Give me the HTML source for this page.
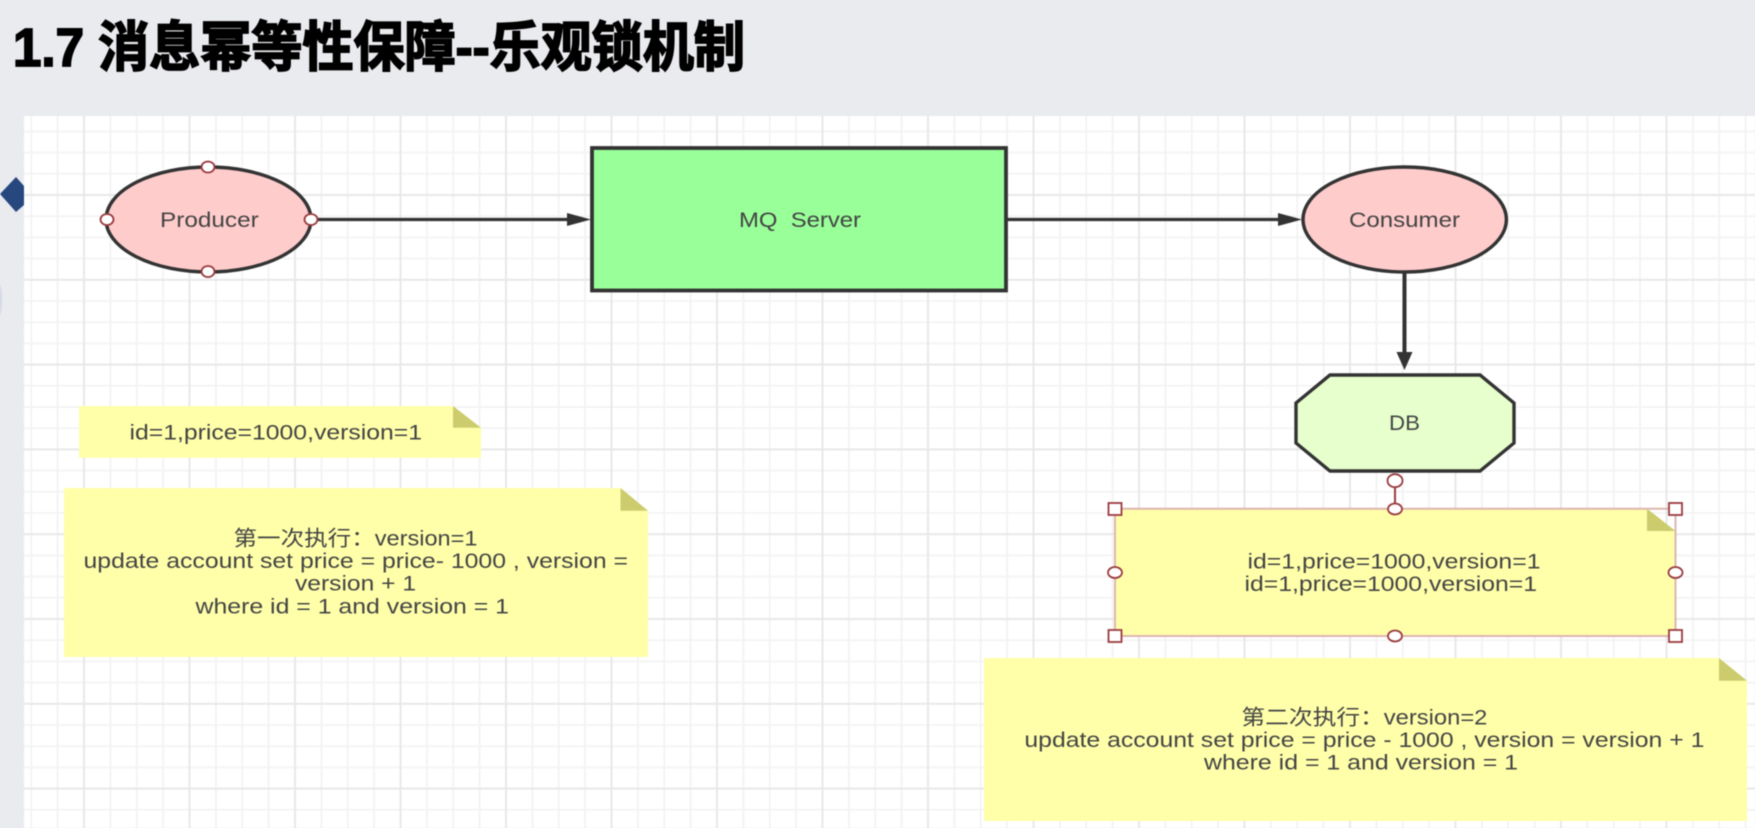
<!DOCTYPE html>
<html><head><meta charset="utf-8"><style>
html,body{margin:0;padding:0;background:#eaebef;width:1755px;height:828px;overflow:hidden}
svg{display:block;filter:blur(0.45px)}
text{font-family:"Liberation Sans","Noto Sans CJK SC",sans-serif;fill:#444;font-size:21px;text-anchor:start}
.t{font-family:"Liberation Sans","Noto Sans CJK SC",sans-serif;font-weight:700;font-size:54px;fill:#000;stroke:#000;stroke-width:1.8px}
.h{fill:#fff;stroke:#9a3b3f;stroke-width:1.8}
</style></head><body>
<svg width="1755" height="828" viewBox="0 0 1755 828" xmlns="http://www.w3.org/2000/svg">
<defs>
<pattern id="g" patternUnits="userSpaceOnUse" x="84" y="110.2" width="105.5" height="84.8">
<rect width="105.5" height="84.8" fill="#fff"/>
<g stroke="#f3f3f3" stroke-width="1.8">
<path d="M26.4 0V84.8M52.75 0V84.8M79.1 0V84.8M0 21.2H105.5M0 42.4H105.5M0 63.6H105.5"/>
</g>
<g stroke="#e8e8e8" stroke-width="2">
<path d="M0 0V84.8M105.5 0V84.8M0 0H105.5M0 84.8H105.5"/>
</g>
</pattern>
</defs>
<rect width="1755" height="828" fill="#eaebef"/>
<rect x="24" y="116" width="1731" height="712" fill="url(#g)"/>
<path d="M16 177L24 186V205L16 212L0 194Z" fill="#27477f"/>
<ellipse cx="-12" cy="300" rx="14" ry="32" fill="#cfd6e4"/>

<text class="t" x="13" y="66" textLength="732" lengthAdjust="spacingAndGlyphs">1.7 消息幂等性保障--乐观锁机制</text>

<g stroke="#333" stroke-width="3.2" fill="none">
<path d="M311 219.5H570"/>
<path d="M1006 219.5H1280"/>
<path d="M1404.5 272V354" stroke-width="4"/>
</g>
<path d="M567 213L591 219.5L567 226Z" fill="#333"/>
<path d="M1278 213L1302 219.5L1278 226Z" fill="#333"/>
<path d="M1396.5 352H1412.5L1404.5 370Z" fill="#333"/>

<ellipse cx="208.5" cy="219.5" rx="102.5" ry="52.5" fill="#ffcccc" stroke="#333" stroke-width="3.4"/>
<rect x="592" y="148" width="414" height="142.5" fill="#99ff99" stroke="#333" stroke-width="3.8"/>
<ellipse cx="1404.7" cy="219.5" rx="101.7" ry="52.5" fill="#ffcccc" stroke="#333" stroke-width="3.4"/>
<path d="M1330 375H1480L1514 403V443L1480 471H1330L1296 443V403Z" fill="#e6ffcc" stroke="#333" stroke-width="3.4"/>

<path d="M79 406H453L481 427.7V457.7H79Z" fill="#ffffaa"/>
<path d="M453 406L481 427.7H453Z" fill="#cccc6e"/>
<path d="M64 488H620.5L648 510.7V657H64Z" fill="#ffffaa"/>
<path d="M620.5 488L648 510.7H620.5Z" fill="#cccc6e"/>
<path d="M1115 508.7H1647L1675.5 531V636H1115Z" fill="#ffffaa"/>
<path d="M1647 508.7L1675.5 531H1647Z" fill="#cccc6e"/>
<path d="M1115 508.7H1675.5V636H1115Z" fill="none" stroke="#dcb6b0" stroke-width="2"/>
<path d="M984 658H1719L1747 680.7V821H984Z" fill="#ffffaa"/>
<path d="M1719 658L1747 680.7H1719Z" fill="#cccc6e"/>

<g>
<ellipse class="h" cx="208" cy="167" rx="6.5" ry="5.5"/>
<ellipse class="h" cx="208" cy="271.5" rx="6.5" ry="5.5"/>
<ellipse class="h" cx="107" cy="219.5" rx="6.5" ry="5.5"/>
<ellipse class="h" cx="311" cy="219.5" rx="6.5" ry="5.5"/>
<path d="M1395 487V509" stroke="#9a3b3f" stroke-width="2"/>
<ellipse class="h" cx="1395" cy="480.7" rx="7.5" ry="6.5"/>
<ellipse class="h" cx="1395" cy="509" rx="7" ry="5.5"/>
<ellipse class="h" cx="1395" cy="636" rx="7" ry="5.5"/>
<ellipse class="h" cx="1115" cy="572.5" rx="7" ry="5.5"/>
<ellipse class="h" cx="1675.5" cy="572.5" rx="7" ry="5.5"/>
<rect class="h" x="1108.5" y="503" width="13" height="12"/>
<rect class="h" x="1669" y="503" width="13" height="12"/>
<rect class="h" x="1108.5" y="630" width="13" height="12"/>
<rect class="h" x="1669" y="630" width="13" height="12"/>
</g>

<g>
<text x="160" y="227" textLength="98.7" lengthAdjust="spacingAndGlyphs">Producer</text>
<text x="739" y="227" textLength="122" lengthAdjust="spacingAndGlyphs" xml:space="preserve">MQ  Server</text>
<text x="1349" y="227" textLength="111" lengthAdjust="spacingAndGlyphs">Consumer</text>
<text x="1389" y="430" textLength="31" lengthAdjust="spacingAndGlyphs">DB</text>
<text x="129.5" y="439.5" textLength="292.5" lengthAdjust="spacingAndGlyphs">id=1,price=1000,version=1</text>
<text x="233.5" y="545.5" textLength="244" lengthAdjust="spacingAndGlyphs">第一次执行：version=1</text>
<text x="83.5" y="568" textLength="544.5" lengthAdjust="spacingAndGlyphs">update account set price = price- 1000 , version =</text>
<text x="295" y="590.5" textLength="121" lengthAdjust="spacingAndGlyphs">version + 1</text>
<text x="195.5" y="613.5" textLength="313.5" lengthAdjust="spacingAndGlyphs">where id = 1 and version = 1</text>
<text x="1247.5" y="568.5" textLength="293" lengthAdjust="spacingAndGlyphs">id=1,price=1000,version=1</text>
<text x="1244.5" y="591" textLength="292.5" lengthAdjust="spacingAndGlyphs">id=1,price=1000,version=1</text>
<text x="1241.4" y="724.5" textLength="246" lengthAdjust="spacingAndGlyphs">第二次执行：version=2</text>
<text x="1024.4" y="747" textLength="680" lengthAdjust="spacingAndGlyphs">update account set price = price - 1000 , version = version + 1</text>
<text x="1204" y="769.5" textLength="314" lengthAdjust="spacingAndGlyphs">where id = 1 and version = 1</text>
</g>
</svg>
</body></html>
